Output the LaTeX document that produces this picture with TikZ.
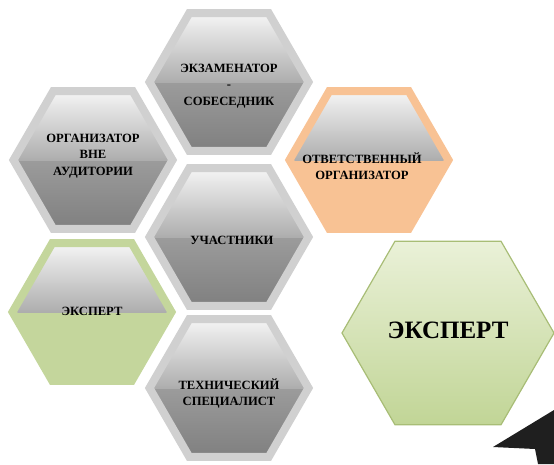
\documentclass[tikz,border=0pt]{standalone}
\usepackage{fontspec}
\setmainfont{Liberation Serif}
\usetikzlibrary{shapes.geometric}

\definecolor{cellrim}{RGB}{208,208,208}
\definecolor{cellorange}{RGB}{248,194,148}
\definecolor{cellgreen}{RGB}{196,214,156}
\definecolor{biglight}{RGB}{234,241,216}
\definecolor{bigdark}{RGB}{193,213,150}
\definecolor{bigrim}{RGB}{168,189,118}

\begin{document}
\begin{tikzpicture}[x=1pt, y=-1pt,
		celltext/.style={align=center, inner sep=0pt, font=\fontsize{12.6}{16.3}\selectfont\bfseries},
		hexcell/.style={regular polygon, regular polygon sides=6, minimum size=159pt, inner sep=0pt, line width=8pt,
			path picture={\shade[top color=black!4, bottom color=black!60] (path picture bounding box.north west) rectangle (path picture bounding box.east);}},
		graycell/.style={hexcell, draw=cellrim, top color=black!28, bottom color=black!50},
		orangecell/.style={hexcell, draw=cellorange, fill=cellorange},
		greencell/.style={hexcell, draw=cellgreen, fill=cellgreen},
		bigcell/.style={regular polygon, regular polygon sides=6, minimum size=212pt, inner sep=0pt, draw=bigrim, line width=1.2pt, top color=biglight, bottom color=bigdark}]
		\useasboundingbox (0,0) rectangle (554,464);

		% Hexagons
		\node [graycell, label={[celltext, yshift=-4pt]center:ЭКЗАМЕНАТОР\\-\\СОБЕСЕДНИК}] (examiner) at (229,82) {};
		\node [graycell, label={[celltext, yshift=4pt]center:ОРГАНИЗАТОР\\ВНЕ\\АУДИТОРИИ}] (outside) at (93,160) {};
		\node [orangecell, label={[celltext, yshift=-6pt, xshift=-7pt]center:ОТВЕТСТВЕННЫЙ\\ОРГАНИЗАТОР}] (organizer) at (369,160) {};
		\node [graycell, label={[celltext, yshift=-3pt, xshift=3pt]center:УЧАСТНИКИ}] (members) at (229,237) {};
		\node [greencell, label={[celltext, yshift=1pt]center:ЭКСПЕРТ}] (expert) at (92,312) {};
		\node [graycell, label={[celltext, yshift=-5.5pt]center:ТЕХНИЧЕСКИЙ\\СПЕЦИАЛИСТ}] (technician) at (229,388) {};
		\node [bigcell, label={[font=\fontsize{25}{30}\selectfont\bfseries, yshift=3pt]center:ЭКСПЕРТ}] (bigexpert) at (448,333) {};

		% Corner shape
		\fill [black!88] (493,447) -- (554,410) -- (554,464) -- (538,464) -- (535,449) -- cycle;
	\end{tikzpicture}
\end{document}
